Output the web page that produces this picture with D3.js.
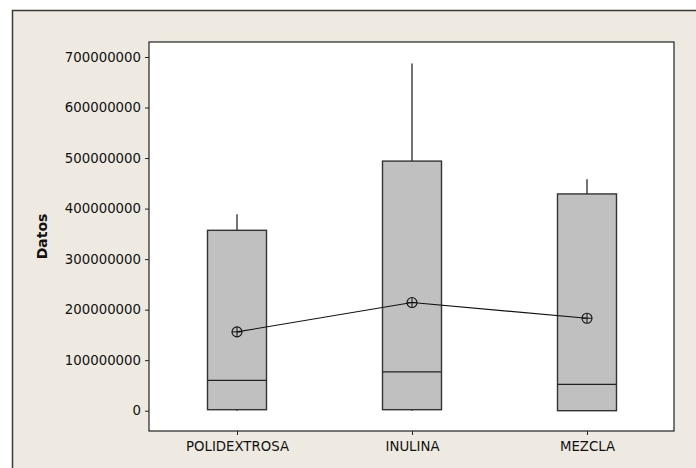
<!DOCTYPE html>
<html>
<head>
<meta charset="utf-8">
<script src="https://cdn.jsdelivr.net/npm/d3@7"></script>
<style>
  html, body { margin: 0; padding: 0; background: #ffffff; }
  svg { display: block; }
  text { font-family: "DejaVu Sans", sans-serif; }
</style>
</head>
<body>
<svg id="chart" width="696" height="468"></svg>
<script>
// Box plot data per group
const categories = ["POLIDEXTROSA", "INULINA", "MEZCLA"];
const whiskerLow = [0, 0, 0];
const q1Values = [2000000, 2000000, 0];
const medianValues = [60000000, 77000000, 52000000];
const q3Values = [357000000, 494000000, 429000000];
const whiskerHigh = [389000000, 687000000, 458000000];
const meanValues = [156000000, 214000000, 183000000];
const yTicks = [0, 100000000, 200000000, 300000000, 400000000, 500000000, 600000000, 700000000];
const yTitle = "Datos";

const rows = categories.map((c, i) => ({
  cat: c, lo: whiskerLow[i], q1: q1Values[i], med: medianValues[i],
  q3: q3Values[i], hi: whiskerHigh[i], mean: meanValues[i]
}));

const svg = d3.select("#chart");
const W = 696, H = 468;

// Outer panel
svg.append("rect")
  .attr("x", 12.5).attr("y", 10.5)
  .attr("width", W + 10).attr("height", H + 10)
  .attr("fill", "#EEEAE1").attr("stroke", "#3a3a3a").attr("stroke-width", 1.5);

const plot = { left: 149, top: 42, right: 674, bottom: 431 };

// Plot area
svg.append("rect")
  .attr("x", plot.left).attr("y", plot.top)
  .attr("width", plot.right - plot.left).attr("height", plot.bottom - plot.top)
  .attr("fill", "#ffffff").attr("stroke", "#222").attr("stroke-width", 1.2);

const y = d3.scaleLinear().domain([0, 700000000]).range([410.7, 57]);
const x = d3.scalePoint().domain(categories).range([237, 587]);

// Y axis
const yAxis = d3.axisLeft(y).tickValues(yTicks).tickSize(4).tickPadding(4)
  .tickFormat(d3.format("d"));
const gy = svg.append("g").attr("transform", `translate(${plot.left},0)`).call(yAxis);
gy.select(".domain").remove();
gy.selectAll(".tick line").attr("stroke", "#222");
gy.selectAll(".tick text").attr("font-size", "13.3px").attr("fill", "#111");

// X axis
const xAxis = d3.axisBottom(x).tickSize(4).tickPadding(5);
const gx = svg.append("g").attr("transform", `translate(0,${plot.bottom})`).call(xAxis);
gx.select(".domain").remove();
gx.selectAll(".tick line").attr("stroke", "#222");
gx.selectAll(".tick text").attr("font-size", "13.3px").attr("fill", "#111")
  .attr("dy", "0.85em");

// Y title
svg.append("text")
  .attr("transform", `translate(47,${(plot.top + plot.bottom) / 2}) rotate(-90)`)
  .attr("text-anchor", "middle")
  .attr("font-size", "14px").attr("font-weight", "bold").attr("fill", "#111")
  .text(yTitle);

const boxW = 59;
const g = svg.append("g");

// Whiskers
g.selectAll("line.whiskerHi").data(rows).join("line")
  .attr("x1", d => x(d.cat)).attr("x2", d => x(d.cat))
  .attr("y1", d => y(d.q3)).attr("y2", d => y(d.hi))
  .attr("stroke", "#444").attr("stroke-width", 1.5);
g.selectAll("line.whiskerLo").data(rows).join("line")
  .attr("x1", d => x(d.cat)).attr("x2", d => x(d.cat))
  .attr("y1", d => y(d.q1)).attr("y2", d => y(d.lo))
  .attr("stroke", "#444").attr("stroke-width", 1.5);

// Boxes
g.selectAll("rect.box").data(rows).join("rect")
  .attr("x", d => x(d.cat) - boxW / 2).attr("width", boxW)
  .attr("y", d => y(d.q3)).attr("height", d => y(d.q1) - y(d.q3))
  .attr("fill", "#C0C0C0").attr("stroke", "#333").attr("stroke-width", 1.4);

// Medians
g.selectAll("line.median").data(rows).join("line")
  .attr("x1", d => x(d.cat) - boxW / 2).attr("x2", d => x(d.cat) + boxW / 2)
  .attr("y1", d => y(d.med)).attr("y2", d => y(d.med))
  .attr("stroke", "#222").attr("stroke-width", 1.2);

// Mean connect line
const line = d3.line().x(d => x(d.cat)).y(d => y(d.mean));
g.append("path").datum(rows).attr("d", line)
  .attr("fill", "none").attr("stroke", "#111").attr("stroke-width", 1.1);

// Mean symbols: circle with cross
const r = 5;
const sym = g.selectAll("g.mean").data(rows).join("g")
  .attr("transform", d => `translate(${x(d.cat)},${y(d.mean)})`);
sym.append("circle").attr("r", r).attr("fill", "none")
  .attr("stroke", "#111").attr("stroke-width", 1.1);
sym.append("line").attr("x1", -r).attr("x2", r).attr("y1", 0).attr("y2", 0)
  .attr("stroke", "#111").attr("stroke-width", 1);
sym.append("line").attr("x1", 0).attr("x2", 0).attr("y1", -r).attr("y2", r)
  .attr("stroke", "#111").attr("stroke-width", 1);
</script>
</body>
</html>
